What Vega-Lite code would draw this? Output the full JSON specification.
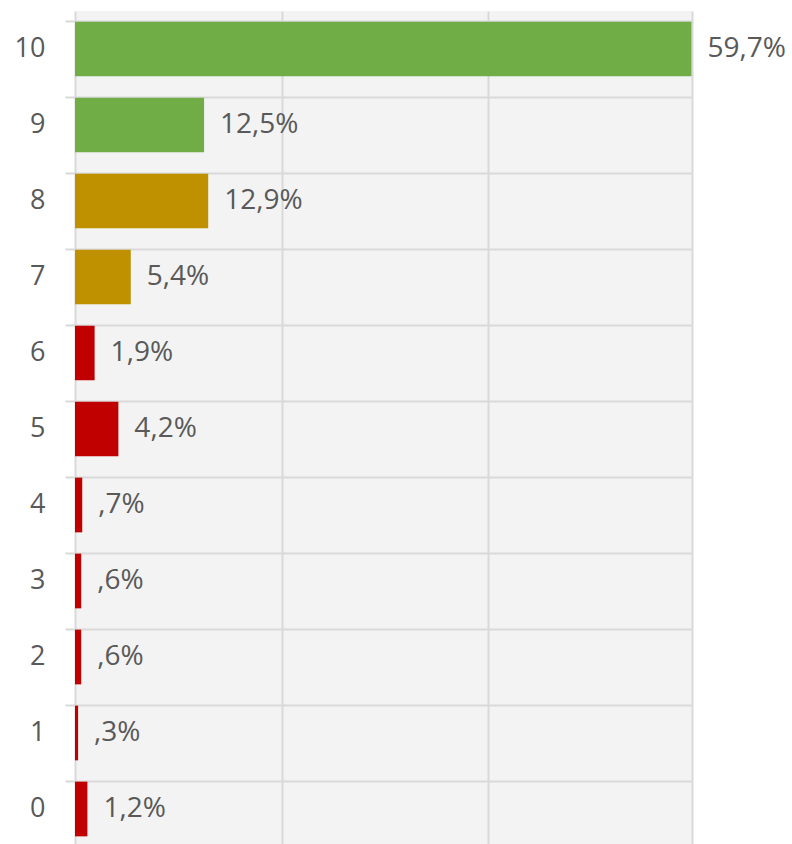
{
  "$schema": "https://vega.github.io/schema/vega-lite/v6.json",
  "width": 617,
  "height": 836,
  "autosize": {"type": "none"},
  "padding": {"left": 75, "top": 11, "right": 100, "bottom": 0},
  "background": "white",
  "config": {
    "view": {"stroke": null, "fill": "#f3f3f3"},
    "font": "Open Sans"
  },
  "data": {
    "values": [
      {"score": "10", "pct": 59.7, "label": "59,7%", "group": "Promoter"},
      {"score": "9", "pct": 12.5, "label": "12,5%", "group": "Promoter"},
      {"score": "8", "pct": 12.9, "label": "12,9%", "group": "Passive"},
      {"score": "7", "pct": 5.4, "label": "5,4%", "group": "Passive"},
      {"score": "6", "pct": 1.9, "label": "1,9%", "group": "Detractor"},
      {"score": "5", "pct": 4.2, "label": "4,2%", "group": "Detractor"},
      {"score": "4", "pct": 0.7, "label": ",7%", "group": "Detractor"},
      {"score": "3", "pct": 0.6, "label": ",6%", "group": "Detractor"},
      {"score": "2", "pct": 0.6, "label": ",6%", "group": "Detractor"},
      {"score": "1", "pct": 0.3, "label": ",3%", "group": "Detractor"},
      {"score": "0", "pct": 1.2, "label": "1,2%", "group": "Detractor"}
    ]
  },
  "encoding": {
    "y": {
      "field": "score",
      "type": "ordinal",
      "sort": ["10", "9", "8", "7", "6", "5", "4", "3", "2", "1", "0"],
      "scale": {"paddingInner": 0.28, "paddingOuter": 0.14},
      "axis": {
        "title": null,
        "domain": false,
        "bandPosition": 0,
        "grid": true,
        "gridColor": "#d9d9d9",
        "gridWidth": 2,
        "ticks": true,
        "tickSize": 10,
        "tickColor": "#d9d9d9",
        "tickWidth": 2,
        "labelPadding": 20,
        "labelFontSize": 27,
        "labelColor": "#595959",
        "labelFont": "Open Sans"
      }
    },
    "x": {
      "field": "pct",
      "type": "quantitative",
      "scale": {"domain": [0, 59.75], "nice": false, "zero": true},
      "axis": {
        "title": null,
        "values": [0, 20, 40, 59.75],
        "labels": false,
        "ticks": false,
        "domain": false,
        "grid": true,
        "gridColor": "#d9d9d9",
        "gridWidth": 2
      }
    }
  },
  "layer": [
    {
      "mark": {"type": "bar"},
      "encoding": {
        "color": {
          "field": "group",
          "type": "nominal",
          "scale": {"domain": ["Promoter", "Passive", "Detractor"], "range": ["#70ad47", "#bf9000", "#c00000"]},
          "legend": null
        }
      }
    },
    {
      "mark": {"type": "text", "align": "left", "baseline": "middle", "dx": 16, "fontSize": 28, "color": "#595959", "font": "Open Sans"},
      "encoding": {"text": {"field": "label"}}
    }
  ]
}
